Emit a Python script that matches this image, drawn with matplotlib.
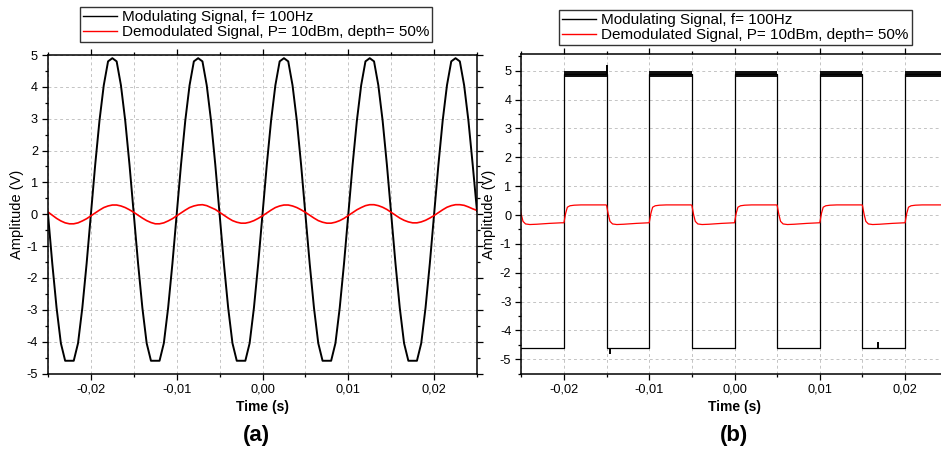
import numpy as np
import matplotlib
matplotlib.use("Agg")
import matplotlib.pyplot as plt
from matplotlib.ticker import MultipleLocator, FuncFormatter

plt.rcParams["font.family"] = ["Liberation Sans", "DejaVu Sans"]
plt.rcParams["axes.unicode_minus"] = False

# ---- panel (a): sine modulation, sampled every 0.5 ms ----
t_a = np.round(np.arange(-0.025, 0.02501, 0.0005), 4)
mod_a = [
    0, -1.55, -2.94, -4.05, -4.6, -4.6, -4.6, -4.05, -2.94, -1.55,
    0, 1.55, 2.94, 4.05, 4.8, 4.9, 4.8, 4.05, 2.94, 1.55,
    0, -1.55, -2.94, -4.05, -4.6, -4.6, -4.6, -4.05, -2.94, -1.55,
    0, 1.55, 2.94, 4.05, 4.8, 4.9, 4.8, 4.05, 2.94, 1.55,
    0, -1.55, -2.94, -4.05, -4.6, -4.6, -4.6, -4.05, -2.94, -1.55,
    0, 1.55, 2.94, 4.05, 4.8, 4.9, 4.8, 4.05, 2.94, 1.55,
    0, -1.55, -2.94, -4.05, -4.6, -4.6, -4.6, -4.05, -2.94, -1.55,
    0, 1.55, 2.94, 4.05, 4.8, 4.9, 4.8, 4.05, 2.94, 1.55,
    0, -1.55, -2.94, -4.05, -4.6, -4.6, -4.6, -4.05, -2.94, -1.55,
    0, 1.55, 2.94, 4.05, 4.8, 4.9, 4.8, 4.05, 2.94, 1.55,
    0.1,
]
demod_a = [
    0.07, -0.03, -0.13, -0.21, -0.27, -0.30, -0.30, -0.27, -0.21, -0.14,
    -0.05, 0.04, 0.13, 0.21, 0.26, 0.29, 0.29, 0.26, 0.21, 0.14,
    0.06, -0.03, -0.12, -0.20, -0.26, -0.30, -0.30, -0.27, -0.21, -0.14,
    -0.05, 0.04, 0.13, 0.21, 0.26, 0.29, 0.30, 0.27, 0.21, 0.15,
    0.06, -0.03, -0.12, -0.20, -0.25, -0.28, -0.28, -0.25, -0.20, -0.13,
    -0.05, 0.04, 0.13, 0.21, 0.26, 0.29, 0.29, 0.26, 0.21, 0.14,
    0.06, -0.03, -0.12, -0.20, -0.25, -0.28, -0.28, -0.25, -0.20, -0.13,
    -0.04, 0.05, 0.14, 0.21, 0.27, 0.30, 0.30, 0.27, 0.22, 0.15,
    0.06, -0.03, -0.12, -0.19, -0.24, -0.27, -0.27, -0.24, -0.19, -0.12,
    -0.04, 0.05, 0.14, 0.22, 0.27, 0.30, 0.30, 0.28, 0.23, 0.17,
    0.12,
]

# ---- panel (b): square modulation ----
sq_t = [-0.025, -0.02, -0.015, -0.01, -0.005, 0.0, 0.005, 0.01, 0.015, 0.02, 0.025]
sq_v = [-4.6, 4.9, -4.6, 4.9, -4.6, 4.9, -4.6, 4.9, -4.6, 4.9, 4.9]
band_lo, band_hi = 4.78, 5.0            # noisy top level
glitch_t = [-0.015, -0.01456, 0.0168]
glitch_lo = [4.9, -4.8, -4.6]
glitch_hi = [5.2, -4.6, -4.4]

# demodulated response around each edge
edge_t = [-0.0252, -0.02, -0.015, -0.01, -0.005, 0.0, 0.005, 0.01, 0.015, 0.02]
edge_kind = ["fall", "rise", "fall", "rise", "fall", "rise", "fall", "rise", "fall", "rise"]
fall_dt = [0.0, 0.0002, 0.0004, 0.0007, 0.0012, 0.002, 0.0035, 0.0049]
fall_v = [0.34, 0.02, -0.22, -0.31, -0.33, -0.32, -0.29, -0.27]
rise_dt = [0.0, 0.0002, 0.0004, 0.0007, 0.0012, 0.002, 0.0049]
rise_v = [-0.27, 0.06, 0.27, 0.32, 0.34, 0.35, 0.35]

t_b, demod_b = [], []
for te, kind in zip(edge_t, edge_kind):
    dts, vs = (fall_dt, fall_v) if kind == "fall" else (rise_dt, rise_v)
    t_b += [te + d for d in dts]
    demod_b += vs

comma = FuncFormatter(lambda x, p: f"{x:.2f}".replace(".", ","))


def style(ax, ylim):
    ax.set_xlim(-0.025, 0.025)
    ax.set_ylim(*ylim)
    ax.xaxis.set_major_locator(MultipleLocator(0.01))
    ax.xaxis.set_minor_locator(MultipleLocator(0.005))
    ax.yaxis.set_major_locator(MultipleLocator(1))
    ax.yaxis.set_minor_locator(MultipleLocator(0.5))
    ax.xaxis.set_major_formatter(comma)
    ax.tick_params(which="both", direction="out", top=True, right=True,
                   labelsize=9.2, width=0.9, pad=3)
    ax.tick_params(which="major", length=4.2)
    ax.tick_params(which="minor", length=2.5)
    ax.grid(True, which="both", axis="x", color="#c4c4c4", lw=0.7, ls=(0, (3, 3)))
    ax.grid(True, which="major", axis="y", color="#c4c4c4", lw=0.7, ls=(0, (3, 3)))
    ax.set_axisbelow(True)
    for s in ax.spines.values():
        s.set_linewidth(1.1)
    ax.set_xlabel("Time (s)", fontsize=10, fontweight="bold")
    ax.set_ylabel("Amplitude (V)", fontsize=10.5)


fig = plt.figure(figsize=(9.41, 4.53), dpi=100)
W, H = 941, 453

ax1 = fig.add_axes([48 / W, 1 - 373.5 / H, 429 / W, 318.5 / H])
ax2 = fig.add_axes([521.3 / W, 1 - 373.7 / H, 426.4 / W, 319.4 / H])

l1, = ax1.plot(t_a, mod_a, color="black", lw=1.4)
l2, = ax1.plot(t_a, demod_a, color="red", lw=1.2)
style(ax1, (-5, 5))

l3, = ax2.plot(sq_t, sq_v, color="black", lw=0.9, drawstyle="steps-post")
for t0, t1, v in zip(sq_t[:-1], sq_t[1:], sq_v[:-1]):
    if v > 0:
        ax2.fill_between([t0, t1], band_lo, band_hi, color="#111111", lw=0)
ax2.vlines(glitch_t, glitch_lo, glitch_hi, color="black", lw=1.4)
l4, = ax2.plot(t_b, demod_b, color="red", lw=0.9)
style(ax2, (-5.5, 5.57))

for ax in (ax1, ax2):
    ax.xaxis.set_label_coords(0.5, -0.104)
    ax.xaxis.label.set_verticalalignment("center")
ax1.yaxis.set_label_coords(-0.073, 0.5)
ax2.yaxis.set_label_coords(-0.0765, 0.5)
for ax in (ax1, ax2):
    ax.yaxis.label.set_verticalalignment("center")

labels = ["Modulating Signal, f= 100Hz", "Demodulated Signal, P= 10dBm, depth= 50%"]
for ax, hs, x0, y0 in ((ax1, [l1, l2], 80, 7), (ax2, [l3, l4], 559.3, 10)):
    leg = ax.legend(hs, labels, loc="upper left",
                    bbox_to_anchor=(x0 / W, 1 - y0 / H), bbox_transform=fig.transFigure,
                    fontsize=11, frameon=True, fancybox=False, framealpha=1,
                    edgecolor="#333333", borderpad=0.2, labelspacing=0.08,
                    handlelength=2.2, handletextpad=0.35, borderaxespad=0)
    leg.get_frame().set_linewidth(1.0)
    for h in leg.legend_handles:
        h.set_linewidth(1.0)

fig.text(256 / W, 1 - 436 / H, "(a)", ha="center", va="center", fontsize=16, fontweight="bold")
fig.text(734 / W, 1 - 436 / H, "(b)", ha="center", va="center", fontsize=16, fontweight="bold")

fig.savefig("out.png", dpi=100)
